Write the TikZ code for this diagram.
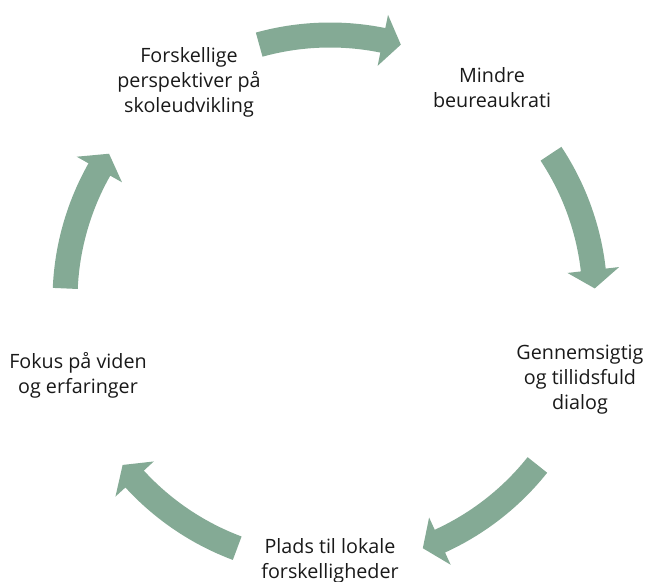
\documentclass[tikz,border=0pt]{standalone}
\usepackage{fontspec}
\setmainfont{Open Sans}
\usetikzlibrary{positioning,calc}
\definecolor{cyclegreen}{RGB}{132,170,149}
\begin{document}
\begin{tikzpicture}[x=1bp,y=1bp]
     \tikzstyle{node_style} = [align=center,font=\fontsize{19.8}{25}\selectfont,text=black!90]
     \tikzstyle{arrow_style} = [fill=cyclegreen,draw=none]
     \useasboundingbox (0,0) rectangle (648,582);
     \coordinate (ctr) at (330,282);
     \node[node_style] (v1) at (189,500) {Forskellige\\perspektiver på\\skoleudvikling};
     \node[node_style] (v2) at (492,494) {Mindre\\beureaukrati};
     \node[node_style] (v3) at (580,202) {Gennemsigtig\\og tillidsfuld\\dialog};
     \node[node_style] (v4) at (330,21) {Plads til lokale\\forskelligheder};
     \node[node_style] (v5) at (78,207) {Fokus på viden\\og erfaringer};
     % the five bent arrows of the cycle
     \foreach \c in {90,18,-54,-126,-198} {
          \fill[arrow_style,shift={(ctr)}]
               ({\c+15.5}:277.5) arc[start angle={\c+15.5},end angle={\c-11.5},radius=277.5]
               -- ({\c-11.5}:291) -- ({\c-15.5}:265) -- ({\c-11.5}:239)
               -- ({\c-11.5}:252.5) arc[start angle={\c-11.5},end angle={\c+15.5},radius=252.5]
               -- cycle;
     }
\end{tikzpicture}
\end{document}
